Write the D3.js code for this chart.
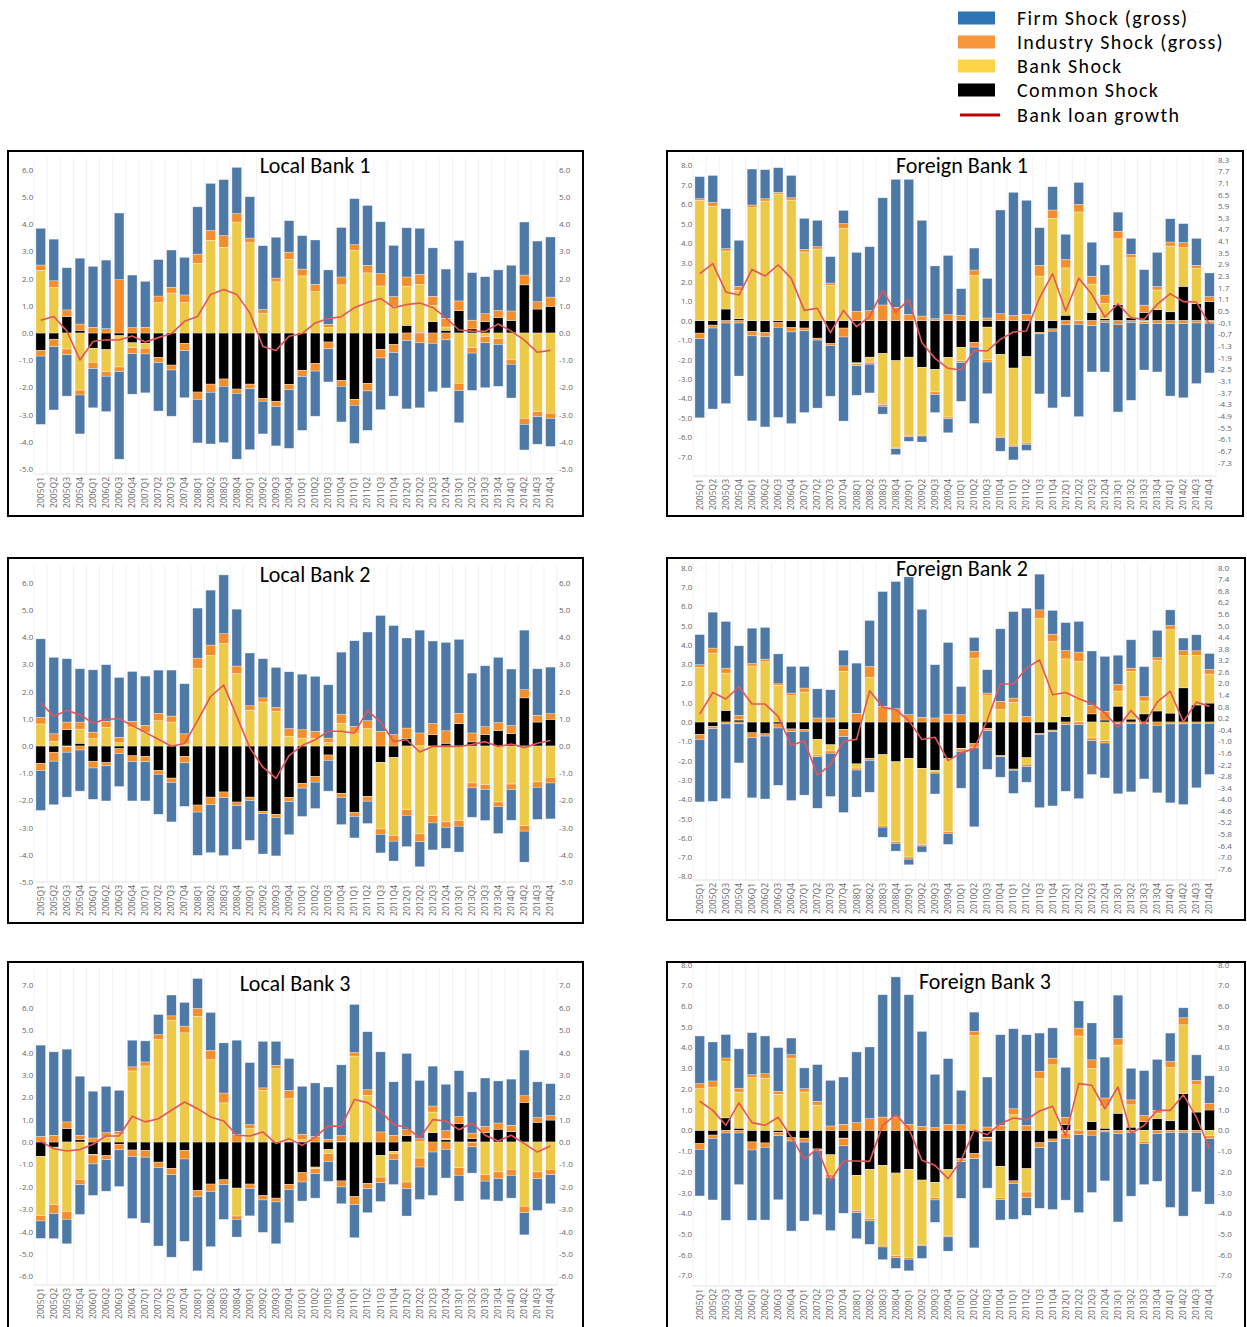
<!DOCTYPE html>
<html>
<head>
<meta charset="utf-8">
<script src="https://cdn.jsdelivr.net/npm/d3@7"></script>
<style>
  body { margin: 0; background: #fff; }
  svg { display: block; }
</style>
</head>
<body>
<svg id="chart" width="1247" height="1327"></svg>
<script>
// ---------- Data ----------
const quarters = ["2005Q1","2005Q2","2005Q3","2005Q4","2006Q1","2006Q2","2006Q3","2006Q4",
  "2007Q1","2007Q2","2007Q3","2007Q4","2008Q1","2008Q2","2008Q3","2008Q4",
  "2009Q1","2009Q2","2009Q3","2009Q4","2010Q1","2010Q2","2010Q3","2010Q4",
  "2011Q1","2011Q2","2011Q3","2011Q4","2012Q1","2012Q2","2012Q3","2012Q4",
  "2013Q1","2013Q2","2013Q3","2013Q4","2014Q1","2014Q2","2014Q3","2014Q4"];

// Common shock is shared by every bank
const commonShock = [-0.64,-0.23,0.6,0.1,-0.56,-0.61,-0.1,-0.36,-0.38,-0.9,-1.18,-0.38,-2.17,-1.88,-1.69,-2.06,-1.88,-2.4,-2.51,-1.89,-1.37,-1.12,-0.33,-1.74,-2.44,-1.85,-0.6,-0.42,0.28,0.02,0.42,0.1,0.82,0.15,0.42,0.57,0.46,1.77,0.88,0.98];

// Local Bank 1
const lb1Bank = [2.3,1.67,-0.59,-2.1,-0.52,-0.81,-1.15,-0.18,-0.18,1.12,1.47,1.12,2.56,3.41,3.15,4.08,3.32,0.72,1.88,2.71,2.1,1.52,0.2,1.77,3.04,2.21,1.73,0.98,1.44,1.77,0.6,0.12,-1.85,-0.54,-0.14,-0.21,-0.97,-3.14,-2.89,-2.95];
const lb1IndPos = [0.2,0.25,0.25,0.23,0.21,0.16,1.96,0.2,0.21,0.24,0.21,0.28,0.34,0.36,0.43,0.31,0.17,0.14,0.14,0.26,0.25,0.27,0.12,0.29,0.21,0.28,0.46,0.36,0.34,0.37,0.33,0.32,0.36,0.32,0.29,0.26,0.35,0.36,0.27,0.34];
const lb1IndNeg = [-0.21,-0.27,-0.21,-0.18,-0.23,-0.17,-0.17,-0.22,-0.21,-0.19,-0.18,-0.27,-0.27,-0.3,-0.27,-0.16,-0.17,-0.11,-0.19,-0.19,-0.23,-0.28,-0.25,-0.22,-0.22,-0.28,-0.32,-0.3,-0.28,-0.36,-0.38,-0.25,-0.27,-0.2,-0.22,-0.21,-0.18,-0.22,-0.19,-0.19];
const lb1FirmPos = [1.35,1.53,1.55,2.42,2.24,2.52,2.45,1.93,1.69,1.34,1.37,1.38,1.74,1.73,2.06,1.7,1.52,2.35,1.5,1.16,1.23,1.63,2.0,1.82,1.69,2.2,1.9,1.88,1.81,1.69,1.78,1.81,2.22,1.75,1.36,1.49,1.68,1.95,2.23,2.21];
const lb1FirmNeg = [-2.51,-2.33,-1.52,-1.43,-1.44,-1.3,-3.22,-1.49,-1.43,-1.78,-1.7,-1.73,-1.6,-1.9,-2.07,-2.42,-2.24,-1.2,-1.45,-2.16,-1.98,-1.66,-1.22,-1.31,-1.4,-1.45,-1.9,-1.6,-2.51,-2.39,-1.78,-1.77,-1.18,-1.37,-1.65,-1.54,-1.24,-0.94,-1.01,-1.03];
const lb1Growth = [0.47,0.61,0.07,-0.99,-0.31,-0.25,-0.26,-0.11,-0.33,-0.17,-0.02,0.43,0.61,1.42,1.6,1.42,0.74,-0.5,-0.64,-0.12,-0.02,0.37,0.53,0.6,0.93,1.12,1.27,0.93,1.05,1.1,0.94,0.56,0.11,0.07,0.06,0.33,0.07,-0.26,-0.71,-0.64];

// Local Bank 2
const lb2Bank = [0.81,0.17,-0.03,0.52,0.27,0.69,0.12,0.7,0.51,0.93,0.88,0.08,2.86,3.33,3.77,2.66,1.32,1.62,1.27,0.36,0.29,0.29,0.13,0.84,0.48,0.64,-2.45,-2.87,-2.34,-3.23,-2.56,-2.79,-2.74,-1.36,-1.42,-2.06,-1.4,-2.93,-1.32,-1.15];
const lb2IndPos = [0.24,0.28,0.28,0.26,0.24,0.22,0.2,0.21,0.25,0.27,0.22,0.37,0.37,0.38,0.36,0.28,0.16,0.15,0.15,0.28,0.31,0.25,0.16,0.33,0.24,0.29,0.54,0.42,0.38,0.46,0.41,0.46,0.38,0.33,0.29,0.29,0.29,0.3,0.25,0.21];
const lb2IndNeg = [-0.26,-0.33,-0.2,-0.15,-0.25,-0.12,-0.18,-0.21,-0.2,-0.14,-0.16,-0.24,-0.26,-0.28,-0.21,-0.13,-0.13,-0.09,-0.12,-0.16,-0.18,-0.21,-0.2,-0.15,-0.15,-0.18,-0.2,-0.21,-0.21,-0.29,-0.27,-0.2,-0.21,-0.18,-0.18,-0.17,-0.2,-0.2,-0.2,-0.21];
const lb2FirmPos = [2.89,2.81,2.33,1.96,2.29,2.08,2.2,1.83,1.81,1.59,1.69,1.84,1.84,2.02,2.16,2.09,1.94,1.44,1.47,2.09,2.04,2.02,1.96,2.28,3.15,3.26,4.26,4.01,3.31,3.78,3.03,3.25,2.72,2.2,2.24,2.4,2.08,2.19,1.71,1.71];
const lb2FirmNeg = [-1.47,-1.6,-1.65,-1.51,-1.15,-1.29,-1.21,-1.45,-1.44,-1.47,-1.45,-1.6,-1.59,-1.76,-2.13,-1.61,-1.46,-1.48,-1.41,-1.21,-1.04,-0.97,-1.13,-1.0,-0.79,-0.82,-0.68,-0.73,-1.15,-0.92,-0.99,-0.77,-0.95,-1.08,-1.14,-0.99,-1.13,-1.14,-1.18,-1.32];
const lb2Growth = [1.59,1.09,1.31,1.15,0.84,0.99,1.0,0.75,0.5,0.25,-0.01,0.09,0.93,1.82,2.24,1.09,-0.07,-0.78,-1.19,-0.35,0.02,0.23,0.54,0.54,0.47,1.3,0.88,0.17,0.23,-0.22,-0.02,-0.01,-0.02,0.05,0.16,-0.02,0.07,-0.06,0.1,0.2];

// Local Bank 3
const lb3Bank = [-2.65,-2.57,-3.1,-1.67,-0.02,0.22,0.33,3.18,3.4,4.58,5.45,4.88,5.62,3.68,1.75,-1.25,0.6,2.31,3.28,1.94,0.1,-0.07,-0.19,0.02,3.84,2.09,-0.97,-0.1,-1.79,-0.72,0.92,0.05,-1.15,-0.02,-1.46,-1.34,-1.22,-2.87,-1.34,-1.22];
const lb3IndPos = [0.25,0.3,0.3,0.2,0.18,0.2,0.15,0.18,0.18,0.22,0.19,0.3,0.35,0.42,0.44,0.33,0.18,0.11,0.15,0.37,0.25,0.25,0.12,0.27,0.16,0.25,0.45,0.3,0.27,0.13,0.27,0.36,0.32,0.25,0.28,0.28,0.29,0.3,0.21,0.2];
const lb3IndNeg = [-0.24,-0.4,-0.36,-0.24,-0.4,-0.18,-0.25,-0.29,-0.3,-0.24,-0.28,-0.38,-0.28,-0.33,-0.22,-0.15,-0.2,-0.19,-0.17,-0.23,-0.42,-0.23,-0.35,-0.27,-0.36,-0.24,-0.25,-0.26,-0.3,-0.4,-0.45,-0.33,-0.34,-0.2,-0.29,-0.3,-0.27,-0.29,-0.3,-0.24];
const lb3FirmPos = [4.08,3.73,3.25,2.64,2.09,2.07,1.83,1.19,0.94,0.9,0.93,1.06,1.34,1.69,2.24,4.22,2.77,2.08,1.07,1.42,2.14,2.39,2.34,3.16,2.15,2.59,3.58,2.39,3.41,2.6,1.78,2.07,2.05,1.84,2.16,1.88,2.06,2.04,1.6,1.43];
const lb3FirmNeg = [-0.78,-1.12,-1.09,-1.33,-1.41,-1.41,-1.64,-2.77,-2.94,-3.51,-3.69,-3.68,-3.31,-2.47,-1.55,-0.79,-1.22,-1.45,-1.87,-1.49,-0.85,-1.09,-0.89,-0.75,-1.48,-1.07,-0.84,-1.12,-1.22,-1.45,-1.94,-1.28,-1.15,-1.17,-0.83,-1.0,-1.02,-0.99,-1.42,-1.3];
const lb3Growth = [0.03,-0.3,-0.4,-0.34,-0.1,0.27,0.27,1.15,0.9,1.04,1.42,1.79,1.49,1.12,0.94,0.3,0.27,0.45,-0.07,0.15,-0.15,0.22,0.72,0.7,1.9,1.76,1.37,0.79,0.64,0.18,1.0,0.94,0.55,0.85,0.3,0.04,0.3,-0.07,-0.45,-0.18];

// Foreign Bank 1
const fb1Bank = [6.2,5.9,2.99,1.46,5.82,6.16,6.52,6.21,3.54,3.69,1.82,4.76,-0.05,-0.26,-2.64,-4.46,-4.02,-3.49,-1.16,-3.07,-0.69,2.33,-1.68,-4.21,-3.97,-4.45,2.3,5.27,2.44,5.58,1.47,0.79,3.4,3.09,-0.05,1.01,3.38,1.99,1.82,-0.03];
const fb1IndPos = [0.08,0.19,0.12,0.21,0.14,0.12,0.09,0.12,0.13,0.12,0.12,0.24,0.48,0.52,0.81,0.69,0.33,0.24,0.1,0.31,0.27,0.28,0.14,0.36,0.27,0.33,0.55,0.43,0.43,0.39,0.4,0.43,0.38,0.18,0.38,0.18,0.21,0.26,0.15,0.26];
const fb1IndNeg = [-0.29,-0.15,-0.12,-0.12,-0.22,-0.22,-0.24,-0.22,-0.14,-0.1,-0.1,-0.46,-0.1,-0.1,-0.08,-0.07,-0.08,-0.05,-0.13,-0.09,-0.1,-0.24,-0.12,-0.08,-0.07,-0.07,-0.08,-0.12,-0.21,-0.19,-0.26,-0.09,-0.19,-0.09,-0.1,-0.15,-0.15,-0.15,-0.12,-0.1];
const fb1FirmPos = [1.14,1.39,2.06,2.37,1.85,1.5,1.27,1.15,1.6,1.36,1.36,0.68,3.04,3.29,5.52,6.59,6.95,4.93,2.72,3.05,1.38,1.13,2.04,5.34,6.34,5.87,1.94,1.2,1.3,1.13,1.75,1.55,0.99,0.82,1.83,1.76,1.2,0.98,1.39,1.22];
const fb1FirmNeg = [-4.07,-4.17,-4.15,-2.73,-4.38,-4.64,-4.64,-4.72,-4.21,-3.5,-2.61,-4.33,-1.52,-1.48,-0.4,-0.31,-0.23,-0.31,-0.93,-0.72,-1.99,-3.93,-1.63,-0.69,-0.69,-0.31,-3.09,-3.95,-3.72,-4.75,-2.38,-2.55,-4.51,-4.01,-2.39,-2.49,-3.73,-3.82,-3.12,-2.56];
const fb1Growth = [2.42,2.94,1.48,1.32,2.64,2.3,2.88,2.18,0.53,0.64,-0.62,0.53,-0.31,0.21,1.56,0.43,1.1,-1.13,-1.94,-2.45,-2.54,-1.53,-1.56,-0.96,-0.58,-0.53,1.18,2.42,0.5,2.18,1.36,0.19,0.87,0.15,0.07,0.84,1.39,0.98,0.96,-0.19];

// Foreign Bank 2
const fb2Bank = [2.83,3.57,1.93,0.02,2.9,3.12,1.9,1.36,1.55,-0.81,-0.32,2.62,-0.22,2.31,-3.67,-4.14,-5.12,-3.96,-0.05,-3.8,-0.03,3.31,1.36,0.64,1.02,-0.34,5.38,4.17,2.99,3.12,-0.83,-0.97,0.78,2.47,0.67,2.62,4.32,1.67,2.57,1.5];
const fb2IndPos = [0.14,0.26,0.26,0.22,0.13,0.14,0.08,0.14,0.21,0.21,0.21,0.29,0.45,0.57,0.81,0.69,0.38,0.24,0.21,0.41,0.38,0.35,0.14,0.43,0.22,0.29,0.43,0.38,0.43,0.48,0.45,0.45,0.35,0.17,0.23,0.14,0.22,0.26,0.24,0.24];
const fb2IndNeg = [-0.26,-0.12,-0.1,-0.09,-0.26,-0.12,-0.21,-0.14,-0.1,-0.09,-0.12,-0.38,-0.1,-0.11,-0.09,-0.09,-0.11,-0.07,-0.09,-0.08,-0.12,-0.22,-0.12,-0.06,-0.06,-0.12,-0.05,-0.08,-0.14,-0.14,-0.14,-0.12,-0.09,-0.09,-0.09,-0.17,-0.1,-0.1,-0.07,-0.07];
const fb2FirmPos = [1.56,1.86,2.42,3.61,1.83,1.64,1.55,1.38,1.12,1.51,1.46,0.81,2.6,2.38,5.95,6.59,7.14,5.6,2.76,3.71,1.46,0.72,1.21,3.76,4.48,5.61,1.85,1.23,1.45,1.59,2.81,2.85,1.51,1.47,1.55,1.42,0.81,0.65,0.83,0.83];
const fb2FirmNeg = [-3.24,-3.76,-3.87,-2.03,-3.11,-3.26,-2.97,-3.57,-3.31,-2.67,-2.24,-3.93,-1.4,-1.65,-0.52,-0.4,-0.29,-0.31,-1.08,-0.57,-1.91,-4.09,-2.0,-1.06,-1.2,-0.81,-3.79,-3.85,-3.45,-3.83,-1.75,-1.81,-3.63,-3.53,-2.86,-3.5,-4.09,-4.18,-3.34,-2.65];
const fb2Growth = [0.41,1.53,1.19,1.83,0.93,0.93,0.29,-1.22,-0.97,-2.76,-2.21,-1.0,-0.9,1.62,0.76,0.64,0.07,-0.91,-0.79,-2.0,-1.6,-1.38,0.1,1.97,1.97,2.79,3.22,1.41,1.53,1.21,0.95,0.47,-0.28,0.59,-0.14,1.03,1.59,0.0,1.03,0.81];

// Foreign Bank 3
const fb3Bank = [2.01,2.09,2.72,1.74,2.54,2.52,1.74,3.46,1.85,1.21,-0.96,-0.02,-1.69,-2.38,-3.86,-3.99,-4.26,-3.1,-0.73,-3.18,-0.02,4.58,-0.03,-1.5,0.75,-1.13,2.49,3.16,-0.15,4.53,2.57,1.07,3.29,1.08,-0.53,0.25,2.57,3.32,1.32,-0.27];
const fb3IndPos = [0.24,0.29,0.17,0.19,0.14,0.21,0.14,0.19,0.16,0.19,0.21,0.29,0.37,0.56,0.64,0.64,0.29,0.19,0.13,0.29,0.27,0.19,0.16,0.24,0.29,0.24,0.35,0.32,0.35,0.38,0.41,0.39,0.32,0.24,0.29,0.14,0.29,0.34,0.21,0.32];
const fb3IndNeg = [-0.28,-0.16,-0.13,-0.13,-0.39,-0.21,-0.16,-0.16,-0.19,-0.08,-0.13,-0.35,-0.11,-0.11,-0.08,-0.1,-0.08,-0.07,-0.12,-0.07,-0.12,-0.25,-0.16,-0.11,-0.13,-0.27,-0.24,-0.13,-0.25,-0.21,-0.24,-0.08,-0.16,-0.11,-0.11,-0.16,-0.11,-0.11,-0.11,-0.13];
const fb3FirmPos = [2.3,1.88,1.13,1.9,2.03,1.82,2.11,0.8,1.0,1.77,2.2,2.28,3.41,3.46,5.9,6.76,6.25,4.58,2.57,3.17,1.66,0.93,2.41,4.37,3.86,4.37,1.85,1.46,2.41,1.31,1.78,1.97,2.09,1.52,2.17,2.46,1.37,0.48,1.23,1.33];
const fb3FirmNeg = [-2.25,-2.97,-4.21,-2.49,-3.39,-3.51,-3.09,-4.34,-3.81,-3.09,-2.57,-3.25,-1.26,-1.13,-0.61,-0.51,-0.56,-0.61,-1.08,-0.69,-1.77,-4.3,-2.27,-0.98,-1.72,-0.85,-2.92,-3.27,-2.97,-3.76,-2.76,-2.36,-4.26,-3.07,-1.98,-2.3,-3.61,-4.03,-2.86,-3.16];
const fb3Growth = [1.4,0.96,0.24,1.32,0.37,0.24,0.63,-0.32,-1.4,-0.88,-2.44,-1.48,-1.48,-1.5,0.24,0.76,0.08,-1.45,-1.69,-2.33,-1.45,0.0,-0.21,0.32,0.59,0.51,0.93,1.16,-0.27,2.25,2.17,1.04,2.09,-0.16,0.24,0.96,0.96,1.72,0.64,-0.88];

// Axis tick labels
const ticksLocal12 = [6,5,4,3,2,1,0,-1,-2,-3,-4,-5];
const ticksLocal3 = [7,6,5,4,3,2,1,0,-1,-2,-3,-4,-5,-6];
const ticksForeign13 = [8,7,6,5,4,3,2,1,0,-1,-2,-3,-4,-5,-6,-7];
const ticksForeign2 = [8,7,6,5,4,3,2,1,0,-1,-2,-3,-4,-5,-6,-7,-8];
const fb1RightTicks = [8.3,7.7,7.1,6.5,5.9,5.3,4.7,4.1,3.5,2.9,2.3,1.7,1.1,0.5,-0.1,-0.7,-1.3,-1.9,-2.5,-3.1,-3.7,-4.3,-4.9,-5.5,-6.1,-6.7,-7.3];
const fb2RightTicks = [8.0,7.4,6.8,6.2,5.6,5.0,4.4,3.8,3.2,2.6,2.0,1.4,0.8,0.2,-0.4,-1.0,-1.6,-2.2,-2.8,-3.4,-4.0,-4.6,-5.2,-5.8,-6.4,-7.0,-7.6];

const seriesNames = ["Firm Shock (gross)", "Industry Shock (gross)", "Bank Shock", "Common Shock", "Bank loan growth"];

// ---------- Styling ----------
const colors = { firm: "#4e79a7", ind: "#f28e2b", bank: "#edc948", common: "#000000", line: "#e15759" };
const legendColors = ["#2e75b6", "#f7963a", "#ffd547", "#000000", "#c00000"];
const titleFont = "Carlito, Calibri, Lato, 'Open Sans', sans-serif";
const tickFont = "'Open Sans', 'Noto Sans', sans-serif";

// Panel layout
const panels = [
  { title: "Local Bank 1", bank: lb1Bank, indPos: lb1IndPos, indNeg: lb1IndNeg, firmPos: lb1FirmPos, firmNeg: lb1FirmNeg, growth: lb1Growth,
    box: [8, 151, 575, 365], x0: 34.2, zeroY: 333, unit: 27.2, top: 158, bottom: 474,
    leftTicks: ticksLocal12, rightTicks: ticksLocal12, titleX: 315, titleY: 173 },
  { title: "Foreign Bank 1", bank: fb1Bank, indPos: fb1IndPos, indNeg: fb1IndNeg, firmPos: fb1FirmPos, firmNeg: fb1FirmNeg, growth: fb1Growth,
    box: [667, 151, 576, 365], x0: 693.2, zeroY: 320.7, unit: 19.42, top: 156, bottom: 476,
    leftTicks: ticksForeign13, rightTicks: fb1RightTicks, titleX: 962, titleY: 173 },
  { title: "Local Bank 2", bank: lb2Bank, indPos: lb2IndPos, indNeg: lb2IndNeg, firmPos: lb2FirmPos, firmNeg: lb2FirmNeg, growth: lb2Growth,
    box: [8, 558, 575, 365], x0: 34.2, zeroY: 746, unit: 27.2, top: 565, bottom: 882,
    leftTicks: ticksLocal12, rightTicks: ticksLocal12, titleX: 315, titleY: 582 },
  { title: "Foreign Bank 2", bank: fb2Bank, indPos: fb2IndPos, indNeg: fb2IndNeg, firmPos: fb2FirmPos, firmNeg: fb2FirmNeg, growth: fb2Growth,
    box: [667, 558, 578, 362], x0: 693.2, zeroY: 722, unit: 19.3, top: 562, bottom: 880,
    leftTicks: ticksForeign2, rightTicks: fb2RightTicks, titleX: 962, titleY: 576 },
  { title: "Local Bank 3", bank: lb3Bank, indPos: lb3IndPos, indNeg: lb3IndNeg, firmPos: lb3FirmPos, firmNeg: lb3FirmNeg, growth: lb3Growth,
    box: [8, 962, 575, 368], x0: 34.2, zeroY: 1142, unit: 22.37, top: 968, bottom: 1285,
    leftTicks: ticksLocal3, rightTicks: ticksLocal3, titleX: 295, titleY: 991 },
  { title: "Foreign Bank 3", bank: fb3Bank, indPos: fb3IndPos, indNeg: fb3IndNeg, firmPos: fb3FirmPos, firmNeg: fb3FirmNeg, growth: fb3Growth,
    box: [667, 962, 578, 368], x0: 693.2, zeroY: 1130.3, unit: 20.73, top: 964, bottom: 1286,
    leftTicks: ticksForeign13, rightTicks: ticksForeign13, titleX: 985, titleY: 989 }
];

const svg = d3.select("#chart");
const step = 13.07;
const fmt = v => v.toFixed(1);

// Stack order outward from zero: common, bank, industry, firm
const keys = ["common", "bank", "indPos", "indNeg", "firmPos", "firmNeg"];
const keyColor = { common: colors.common, bank: colors.bank, indPos: colors.ind, indNeg: colors.ind, firmPos: colors.firm, firmNeg: colors.firm };
const stack = d3.stack().keys(keys).offset(d3.stackOffsetDiverging);

panels.forEach(p => {
  const g = svg.append("g");
  const plotW = step * quarters.length;

  const x = d3.scaleBand().domain(quarters).range([p.x0, p.x0 + plotW])
    .paddingInner(0.26).paddingOuter(0.13);
  const y = d3.scaleLinear()
    .domain([-(p.bottom - p.zeroY) / p.unit, (p.zeroY - p.top) / p.unit])
    .range([p.bottom, p.top]);

  // faint vertical separators between quarters
  g.append("g").selectAll("line").data(d3.range(quarters.length + 1)).join("line")
    .attr("x1", i => p.x0 + i * step).attr("x2", i => p.x0 + i * step)
    .attr("y1", p.top).attr("y2", p.bottom)
    .attr("stroke", "#f3f3f3").attr("stroke-width", 1);
  g.append("line").attr("x1", p.x0).attr("x2", p.x0 + plotW)
    .attr("y1", p.bottom).attr("y2", p.bottom).attr("stroke", "#e2e2e2");

  const rows = quarters.map((q, i) => ({
    q, common: commonShock[i], bank: p.bank[i], indPos: p.indPos[i], indNeg: p.indNeg[i],
    firmPos: p.firmPos[i], firmNeg: p.firmNeg[i]
  }));
  const series = stack(rows);

  g.append("g").selectAll("g").data(series).join("g")
    .attr("fill", s => keyColor[s.key])
    .selectAll("rect").data(s => s).join("rect")
    .attr("x", d => x(d.data.q))
    .attr("width", x.bandwidth())
    .attr("y", d => y(Math.max(d[0], d[1])))
    .attr("height", d => Math.abs(y(d[0]) - y(d[1])))
    .attr("stroke", "rgba(255,255,255,0.55)")
    .attr("stroke-width", 0.6);

  // loan growth line
  const line = d3.line()
    .x((d, i) => x(quarters[i]) + x.bandwidth() / 2)
    .y(d => y(d));
  g.append("path").datum(p.growth)
    .attr("d", line).attr("fill", "none")
    .attr("stroke", colors.line).attr("stroke-width", 1.6)
    .attr("stroke-linejoin", "round");

  // axes
  const leftAxis = d3.axisLeft(y).tickValues(p.leftTicks).tickFormat(fmt).tickSize(0).tickPadding(1);
  const gl = g.append("g").attr("transform", `translate(${p.x0},0)`).call(leftAxis);
  const rightAxis = d3.axisRight(y).tickValues(p.rightTicks).tickFormat(fmt).tickSize(0).tickPadding(2);
  const gr = g.append("g").attr("transform", `translate(${p.x0 + plotW},0)`).call(rightAxis);
  [gl, gr].forEach(a => {
    a.select(".domain").remove();
    a.selectAll("text").attr("fill", "#666").style("font-family", tickFont).style("font-size", "8px");
  });

  // rotated quarter labels
  g.append("g").selectAll("text").data(quarters).join("text")
    .attr("transform", q => `translate(${x(q) + x.bandwidth() / 2},${p.bottom + 3}) rotate(-90)`)
    .attr("text-anchor", "end").attr("dy", "0.35em")
    .attr("fill", "#666").style("font-family", tickFont).style("font-size", "8.5px")
    .text(q => q);

  // title
  g.append("text").attr("x", p.titleX).attr("y", p.titleY)
    .attr("text-anchor", "middle").attr("fill", "#000")
    .style("font-family", titleFont).style("font-size", "22px")
    .text(p.title);

  // frame
  g.append("rect").attr("x", p.box[0]).attr("y", p.box[1])
    .attr("width", p.box[2]).attr("height", p.box[3])
    .attr("fill", "none").attr("stroke", "#000").attr("stroke-width", 2);
});

// ---------- Legend ----------
const legend = svg.append("g");
const legendY = [18, 42, 66, 90, 115];
seriesNames.forEach((name, i) => {
  if (i < 4) {
    legend.append("rect").attr("x", 958).attr("y", legendY[i] - 6.5)
      .attr("width", 37).attr("height", 13).attr("fill", legendColors[i]);
  } else {
    legend.append("line").attr("x1", 960).attr("x2", 1000)
      .attr("y1", legendY[i]).attr("y2", legendY[i])
      .attr("stroke", legendColors[i]).attr("stroke-width", 3);
  }
  legend.append("text").attr("x", 1017).attr("y", legendY[i] + 7)
    .attr("fill", "#000").style("font-family", titleFont).style("font-size", "20px")
    .style("letter-spacing", "1.3px")
    .text(name);
});
</script>
</body>
</html>
